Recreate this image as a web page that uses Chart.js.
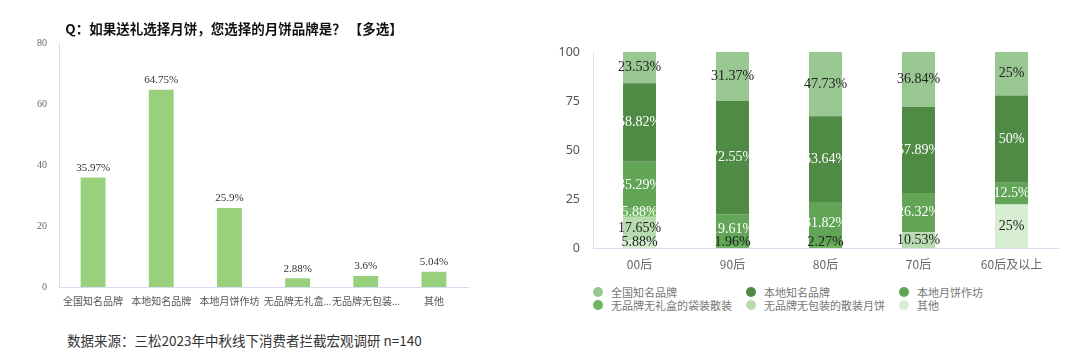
<!DOCTYPE html>
<html>
<head>
<meta charset="utf-8">
<script src="https://cdn.jsdelivr.net/npm/chart.js@4.4.0/dist/chart.umd.min.js"></script>
<style>
    body { margin: 0; width: 1080px; height: 354px; background: #fff; position: relative; overflow: hidden; }
    #leftBox { position: absolute; left: 0; top: 0; width: 532px; height: 317px; }
    #rightBox { position: absolute; left: 540px; top: 0; width: 540px; height: 275px; }
    #source { position: absolute; left: 67px; top: 330px; font: 13.5px "Noto Sans CJK SC", "Noto Sans", sans-serif; color: #333; white-space: nowrap; }
    #legend { position: absolute; left: 593px; top: 286px; display: grid; grid-template-columns: 153px 153px 153px; row-gap: 1px; }
    .item { display: flex; align-items: center; height: 12px; font: 11px "Noto Sans CJK SC", sans-serif; color: #777; white-space: nowrap; }
    .dot { width: 10px; height: 10px; border-radius: 50%; margin-right: 8px; flex: none; }
</style>
</head>
<body>
<div id="leftBox"><canvas id="leftChart"></canvas></div>
<div id="rightBox"><canvas id="rightChart"></canvas></div>
<div id="legend"></div>
<div id="source">数据来源：三松2023年中秋线下消费者拦截宏观调研 n=140</div>

<script>
// ---------- data: left chart (multi-select shares, %) ----------
const brandLabels = ["全国知名品牌", "本地知名品牌", "本地月饼作坊", "无品牌无礼盒...", "无品牌无包装...", "其他"];
const brandValues = [35.97, 64.75, 25.9, 2.88, 3.6, 5.04];

// ---------- data: right chart (by age group, %) ----------
const ageGroups = ["00后", "90后", "80后", "70后", "60后及以上"];
const seriesNames = ["全国知名品牌", "本地知名品牌", "本地月饼作坊", "无品牌无礼盒的袋装散装", "无品牌无包装的散装月饼", "其他"];
const nationalBrand = [23.53, 31.37, 47.73, 36.84, 25];
const localBrand    = [58.82, 72.55, 63.64, 57.89, 50];
const localWorkshop = [35.29, 19.61, 31.82, 26.32, 12.5];
const noGiftBox     = [5.88, 1.96, 2.27, 0, 0];
const noPackage     = [17.65, 0, 0, 10.53, 0];
const otherBrand    = [5.88, 0, 0, 0, 25];
const yTicksRight = [0, 25, 50, 75, 100];

const seriesColors = ["#99c792", "#4f8b45", "#62a556", "#6db55f", "#b8dcb0", "#d7eed3"];
const darkText = [true, false, false, false, true, true];

// ======================================================
// left bar chart
// ======================================================
const barLabelPlugin = {
    id: "barLabels",
    afterDatasetsDraw(chart) {
        const ctx = chart.ctx;
        const meta = chart.getDatasetMeta(0);
        ctx.save();
        ctx.font = "11px 'Liberation Serif', 'Noto Sans CJK SC', serif";
        ctx.fillStyle = "#333";
        ctx.textAlign = "center";
        ctx.textBaseline = "bottom";
        meta.data.forEach((bar, i) => {
            ctx.fillText(brandValues[i] + "%", bar.x, bar.y - 4);
        });
        ctx.restore();
    }
};

new Chart(document.getElementById("leftChart"), {
    type: "bar",
    data: {
        labels: brandLabels,
        datasets: [{
            data: brandValues,
            backgroundColor: "#98d07c",
            barPercentage: 0.365,
            categoryPercentage: 1
        }]
    },
    options: {
        responsive: true,
        maintainAspectRatio: false,
        animation: false,
        layout: { padding: { left: 0, right: 64, top: 0, bottom: 0 } },
        plugins: {
            legend: { display: false },
            tooltip: { enabled: false },
            title: {
                display: true,
                text: "Q：如果送礼选择月饼，您选择的月饼品牌是？ 【多选】",
                color: "#111",
                font: { family: "'Noto Sans CJK SC', sans-serif", size: 13.5, weight: "bold" },
                padding: { top: 21, bottom: 6 }
            }
        },
        scales: {
            x: {
                grid: { display: false, drawTicks: false },
                border: { color: "#d5dcef" },
                ticks: {
                    color: "#555",
                    padding: 9,
                    autoSkip: false,
                    maxRotation: 0,
                    font: { family: "'Liberation Serif', 'Noto Sans CJK SC', serif", size: 10 }
                },
                afterFit: s => { s.height = 30; }
            },
            y: {
                min: 0,
                max: 80,
                grid: { display: false, drawTicks: false },
                border: { color: "#d5dcef" },
                ticks: {
                    stepSize: 20,
                    color: "#666",
                    padding: 12,
                    font: { family: "'Liberation Serif', serif", size: 10 }
                },
                afterFit: s => { s.width = 59; }
            }
        }
    },
    plugins: [barLabelPlugin]
});

// ======================================================
// right 100% stacked chart
// ======================================================
const rawSeries = [nationalBrand, localBrand, localWorkshop, noGiftBox, noPackage, otherBrand];
const groupTotals = ageGroups.map((g, i) => rawSeries.reduce((s, arr) => s + arr[i], 0));

// bottom of stack = last series in legend order
const stackDatasets = rawSeries.map((arr, k) => ({
    label: seriesNames[k],
    raw: arr,
    textDark: darkText[k],
    data: arr.map((v, i) => v / groupTotals[i] * 100),
    backgroundColor: seriesColors[k],
    barPercentage: 0.355,
    categoryPercentage: 1
})).reverse();

const stackLabelPlugin = {
    id: "stackLabels",
    afterDatasetsDraw(chart) {
        const ctx = chart.ctx;
        const bottom = chart.chartArea.bottom;
        ctx.save();
        ctx.font = "14px 'Liberation Serif', serif";
        ctx.textAlign = "center";
        ctx.textBaseline = "middle";
        chart.data.datasets.forEach((ds, d) => {
            const meta = chart.getDatasetMeta(d);
            meta.data.forEach((bar, i) => {
                const v = ds.raw[i];
                if (!v) return;
                let y = (bar.y + bar.base) / 2;
                if (y > bottom - 6) y = bottom - 6;
                ctx.fillStyle = (ds.textDark || v < 3) ? "#222" : "#fff";
                ctx.fillText(v + "%", bar.x, y);
            });
        });
        ctx.restore();
    }
};

new Chart(document.getElementById("rightChart"), {
    type: "bar",
    data: { labels: ageGroups, datasets: stackDatasets },
    options: {
        responsive: true,
        maintainAspectRatio: false,
        animation: false,
        layout: { padding: { left: 0, right: 22, top: 52, bottom: 0 } },
        plugins: {
            legend: { display: false },
            tooltip: { enabled: false }
        },
        scales: {
            x: {
                stacked: true,
                grid: { display: false, drawTicks: false },
                border: { color: "#dcdcee" },
                ticks: {
                    color: "#666",
                    padding: 9,
                    font: { family: "'Noto Sans CJK SC', sans-serif", size: 12 }
                },
                afterFit: s => { s.height = 27; }
            },
            y: {
                stacked: true,
                min: 0,
                max: 100,
                grid: { display: false, drawTicks: false },
                border: { color: "#dcdcee" },
                afterBuildTicks: s => { s.ticks = yTicksRight.map(v => ({ value: v })); },
                ticks: {
                    color: "#555",
                    padding: 13,
                    font: { family: "'Noto Sans', sans-serif", size: 12.5 }
                },
                afterFit: s => { s.width = 53; }
            }
        }
    },
    plugins: [stackLabelPlugin]
});

// legend built from the same names and colours
const legendEl = document.getElementById("legend");
seriesNames.forEach((name, k) => {
    const item = document.createElement("div");
    item.className = "item";
    const dot = document.createElement("span");
    dot.className = "dot";
    dot.style.background = seriesColors[k];
    item.appendChild(dot);
    item.appendChild(document.createTextNode(name));
    legendEl.appendChild(item);
});
</script>
</body>
</html>
